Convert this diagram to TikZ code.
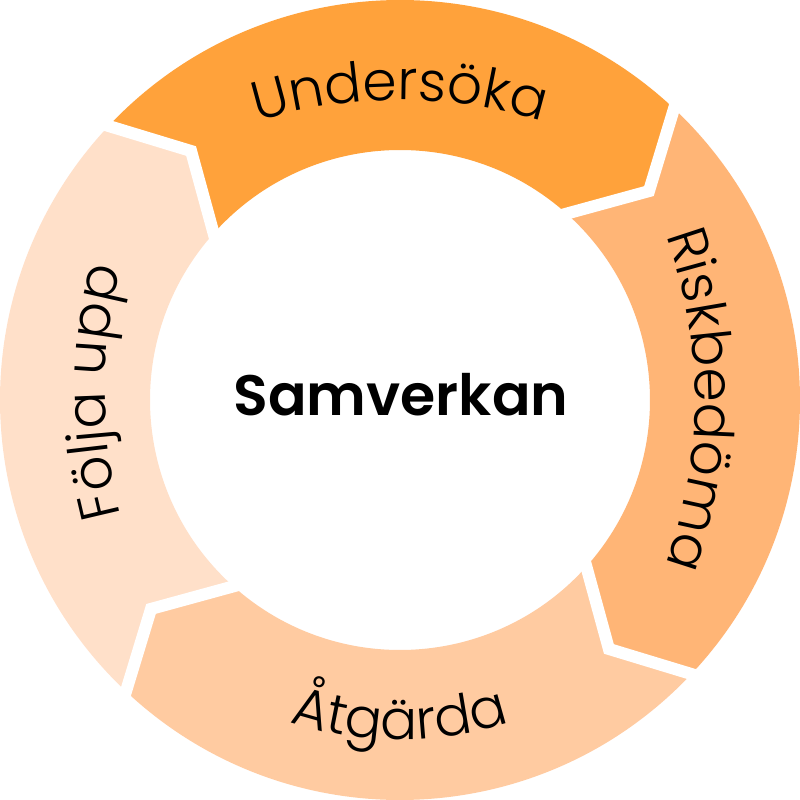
\documentclass[tikz,border=0pt]{standalone}
\usepackage{fontspec}
\setmainfont{Poppins}[UprightFont={* Light}, BoldFont={* SemiBold}]
\usetikzlibrary{decorations.text}
\definecolor{cU}{HTML}{FFA23B}
\definecolor{cR}{HTML}{FFB576}
\definecolor{cA}{HTML}{FFCBA1}
\definecolor{cF}{HTML}{FFE0C9}
\newcommand{\labfont}{\fontsize{55}{60}\selectfont}
\begin{document}
\begin{tikzpicture}
\useasboundingbox (-400pt,-400pt) rectangle (400pt,400pt);
\fill[white] (-400pt,-400pt) rectangle (400pt,400pt);
\tikzset{
  gapline/.style={draw=white, line width=12pt, line join=miter, shorten <=-12pt, shorten >=-12pt},
  labeltext/.style={decorate, decoration={text along path, text align=center}}
}
% segments
\fill[cU] (136.76:400pt) arc[start angle=136.76, end angle=46.76, radius=400pt] -- (40:325pt) -- (48.2:250pt) arc[start angle=48.2, end angle=138.2, radius=250pt] -- (130:325pt) -- cycle;
\fill[cR] (46.76:400pt) arc[start angle=46.76, end angle=-43.24, radius=400pt] -- (-50:325pt) -- (-41.8:250pt) arc[start angle=-41.8, end angle=48.2, radius=250pt] -- (40:325pt) -- cycle;
\fill[cA] (-43.24:400pt) arc[start angle=-43.24, end angle=-133.24, radius=400pt] -- (-140:325pt) -- (-131.8:250pt) arc[start angle=-131.8, end angle=-41.8, radius=250pt] -- (-50:325pt) -- cycle;
\fill[cF] (-133.24:400pt) arc[start angle=-133.24, end angle=-223.24, radius=400pt] -- (-230:325pt) -- (-221.8:250pt) arc[start angle=-221.8, end angle=-131.8, radius=250pt] -- (-140:325pt) -- cycle;
% gaps
\coordinate (o0) at (46.76:400pt);  \coordinate (t0) at (40:325pt);   \coordinate (i0) at (48.2:250pt);
\coordinate (o1) at (-43.24:400pt); \coordinate (t1) at (-50:325pt);  \coordinate (i1) at (-41.8:250pt);
\coordinate (o2) at (-133.24:400pt);\coordinate (t2) at (-140:325pt); \coordinate (i2) at (-131.8:250pt);
\coordinate (o3) at (136.76:400pt); \coordinate (t3) at (130:325pt);  \coordinate (i3) at (138.2:250pt);
\draw[gapline] (o0) -- (t0) -- (i0);
\draw[gapline] (o1) -- (t1) -- (i1);
\draw[gapline] (o2) -- (t2) -- (i2);
\draw[gapline] (o3) -- (t3) -- (i3);
% labels
\path[labeltext, decoration={text={|\labfont|Undersöka}}] ([shift={(125:480pt)}]0pt,-180pt) arc[start angle=125, end angle=55, radius=480pt];
\path[labeltext, decoration={text={|\labfont|Riskbedöma}}] ([shift={(35:480pt)}]-185pt,0pt) arc[start angle=35, end angle=-35, radius=480pt];
\path[labeltext, decoration={text={|\labfont|Följa upp}}] ([shift={(215:480pt)}]185pt,8pt) arc[start angle=215, end angle=145, radius=480pt];
\path[labeltext, decoration={text={|\labfont|Åtgärda}}] (240:340pt) arc[start angle=240, end angle=300, radius=340pt];
\node[font=\fontsize{57}{60}\selectfont\bfseries, anchor=base, inner sep=0pt] (center) at (1pt,-15pt) {Samverkan};
\end{tikzpicture}
\end{document}
